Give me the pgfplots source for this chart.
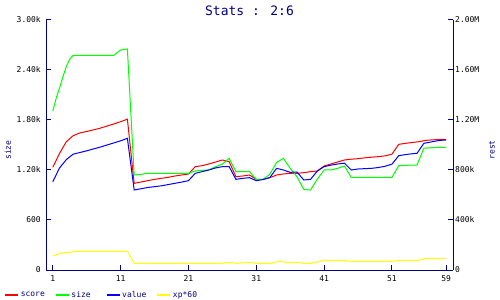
\documentclass[border=0pt]{standalone}
\usepackage{pgfplots}
\pgfplotsset{compat=1.18}
\usepackage{fontspec}
\newfontfamily\mono{DejaVu Sans Mono}
\definecolor{navy}{HTML}{000080}
\definecolor{cred}{HTML}{FF0000}
\definecolor{cgreen}{HTML}{00FF00}
\definecolor{cblue}{HTML}{0000FF}
\definecolor{cyellow}{HTML}{FFFF00}
\newcommand{\lab}{\fontsize{8bp}{9bp}\mono}
\newcommand{\ttl}{\fontsize{13bp}{15bp}\mono}
\begin{document}
\begin{tikzpicture}
\path[use as bounding box] (0,0) rectangle (500bp,300bp);
\begin{axis}[
  at={(46bp,30bp)}, anchor=south west,
  scale only axis, width=407bp, height=250bp,
  xmin=0, xmax=60, ymin=0, ymax=3000,
  axis x line*=bottom, axis y line*=left,
  axis line style={navy, line width=1bp},
  tick style={navy, line width=1bp},
  tick align=inside, major tick length=5bp,
  xtick={1,11,21,31,41,51,59},
  xticklabels={1,11,21,31,41,51,59},
  ytick={0,600,1200,1800,2400,3000},
  yticklabels={0,600,1.20k,1.80k,2.40k,3.00k},
  xticklabel style={font=\lab, inner sep=0pt, anchor=north, yshift=-5bp},
  yticklabel style={font=\lab, inner sep=0pt, anchor=east, xshift=-5bp},
  title={Stats : 2:6},
  title style={font=\ttl, text=navy, at={(0.5,1)}, anchor=center, yshift=3.5bp, inner sep=0pt},
  ylabel={size},
  ylabel style={font=\lab, text=navy, at={(axis description cs:-0.0934,0.48)}, anchor=center, rotate=0, inner sep=0pt},
  legend columns=4,
  legend cell align=left,
  legend style={at={(-0.1032,-0.1)}, anchor=west, draw=none, fill=none, inner sep=0pt, outer sep=0pt,
    column sep=0pt, row sep=0pt,
    nodes={font=\lab, text=navy, inner sep=0pt, text width=34bp, align=left}},
  legend image code/.code={\draw[line width=2.5bp] (0bp,0bp) -- (13bp,0bp); \path (15bp,0bp);},
  every axis plot/.append style={line width=1bp, mark=none},
]
\addplot[cred] coordinates {
(1,1232)(2,1400)(3,1540)(4,1612)(5,1645)(6,1662)(7,1682)(8,1702)(9,1728)(10,1752)(11,1780)(12,1810)
(13,1040)(14,1056)(15,1072)(16,1088)(17,1100)(18,1112)(19,1128)(20,1140)(21,1152)
(22,1240)(23,1252)(24,1272)(25,1296)(26,1320)(27,1300)(28,1120)(29,1128)(30,1140)
(31,1088)(32,1088)(33,1108)(34,1140)(35,1152)(36,1160)(37,1160)(38,1168)(39,1180)(40,1188)
(41,1248)(42,1272)(43,1296)(44,1320)(45,1330)(46,1336)(47,1346)(48,1354)(49,1360)(50,1370)
(51,1390)(52,1508)(53,1520)(54,1530)(55,1540)(56,1556)(57,1562)(58,1566)(59,1568)
};
\addlegendentry{score}
\addplot[cgreen] coordinates {
(1,1908)(1.5,2060)(2,2184)(2.5,2320)(3,2442)(3.5,2530)(4,2576)(5,2576)(6,2576)(7,2576)(8,2576)(9,2576)(10,2576)(11,2640)(12,2652)
(13,1140)(14,1148)(15,1160)(16,1160)(17,1160)(18,1160)(19,1160)(20,1160)(21,1160)
(22,1188)(23,1196)(24,1200)(25,1240)(26,1270)(27,1340)(28,1180)(29,1180)(30,1180)
(31,1088)(32,1088)(33,1150)(34,1290)(35,1340)(36,1220)(37,1120)(38,966)(39,960)(40,1090)
(41,1200)(42,1200)(43,1220)(44,1248)(45,1112)(46,1112)(47,1112)(48,1112)(49,1112)(50,1112)
(51,1112)(52,1252)(53,1256)(54,1258)(54.7,1260)(55.7,1462)(57,1468)(58,1472)(59,1472)
};
\addlegendentry{size}
\addplot[cblue] coordinates {
(1,1060)(2,1225)(3,1325)(4,1390)(5,1410)(6,1430)(7,1453)(8,1475)(9,1500)(10,1525)(11,1550)(12,1580)
(13,960)(14,975)(15,990)(16,1000)(17,1010)(18,1025)(19,1040)(20,1055)(21,1072)
(22,1160)(23,1180)(24,1200)(25,1225)(26,1240)(27,1240)(28,1088)(29,1100)(30,1108)
(31,1072)(32,1085)(33,1110)(34,1220)(35,1200)(36,1172)(37,1176)(38,1080)(39,1088)(40,1188)
(41,1240)(42,1258)(43,1272)(44,1282)(45,1200)(46,1212)(47,1216)(48,1220)(49,1230)(50,1245)
(51,1270)(52,1372)(53,1385)(54,1395)(54.7,1400)(55.7,1520)(57,1540)(58,1555)(59,1560)
};
\addlegendentry{value}
\addplot[cyellow] coordinates {
(1,168)(2,196)(3,210)(4,218)(5,224)(12,224)(13,80)(26,80)(27,92)(28,80)(29,86)(30,92)
(31,80)(33,80)(34,98)(34.5,104)(35.5,92)(37,92)(38,80)(39,80)(40,96)(41,116)(44,116)
(45,104)(51,104)(52,116)(55,116)(56,140)(59,140)
};
\addlegendentry{xp*60}
\end{axis}
\begin{axis}[
  at={(46bp,30bp)}, anchor=south west,
  scale only axis, width=407bp, height=250bp,
  xmin=0, xmax=60, ymin=0, ymax=2000000,
  axis x line=none, axis y line*=right,
  axis line style={navy, line width=1bp},
  tick style={navy, line width=1bp},
  tick align=inside, major tick length=5bp,
  ytick={0,400000,800000,1200000,1600000,2000000},
  yticklabels={0,400k,800k,1.20M,1.60M,2.00M},
  scaled y ticks=false,
  yticklabel style={font=\lab, inner sep=0pt, anchor=west, xshift=2bp},
  ylabel={rest},
  ylabel style={font=\lab, text=navy, at={(axis description cs:1.0958,0.48)}, anchor=center, rotate=0, inner sep=0pt},
]
\end{axis}
\end{tikzpicture}
\end{document}
